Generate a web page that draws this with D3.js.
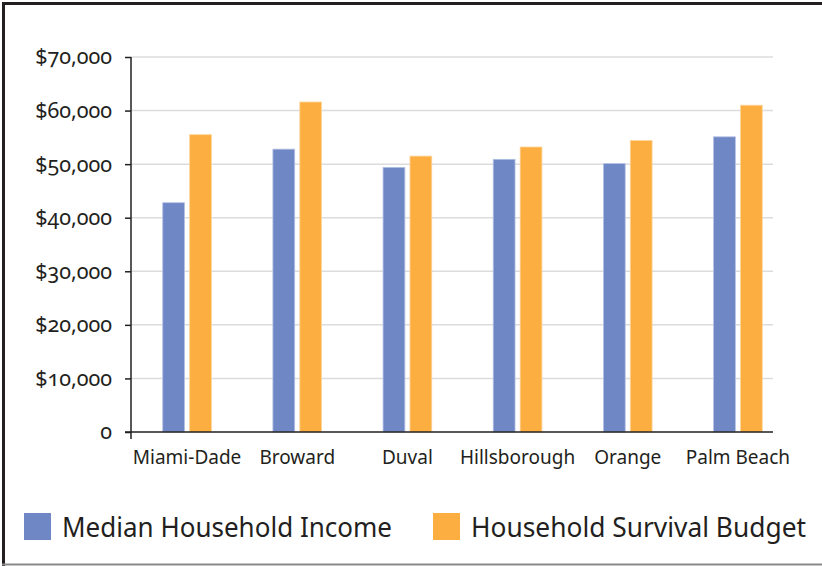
<!DOCTYPE html>
<html>
<head>
<meta charset="utf-8">
<script src="https://cdn.jsdelivr.net/npm/d3@7"></script>
<style>
  html, body { margin: 0; padding: 0; background: #fff; }
  svg text { font-family: "Noto Sans", "Open Sans", sans-serif; fill: #231f20; }
  .ytick { font-variant-numeric: oldstyle-nums; font-feature-settings: "onum" 1; }
</style>
</head>
<body>
<svg id="chart" width="822" height="566"></svg>
<script>
const categories = ["Miami-Dade", "Broward", "Duval", "Hillsborough", "Orange", "Palm Beach"];
const seriesNames = ["Median Household Income", "Household Survival Budget"];
const medianIncome = [42800, 52800, 49400, 50900, 50100, 55100];
const survivalBudget = [55500, 61600, 51500, 53200, 54400, 61000];
const yTicks = [0, 10000, 20000, 30000, 40000, 50000, 60000, 70000];
const colors = ["#6f87c5", "#fcaf40"];
const strokeColors = ["#b4c1e4", "#fdd49b"];

const svg = d3.select("#chart");
const W = 822, H = 566;

// frame
svg.append("line").attr("x1", 3.5).attr("x2", 3.5).attr("y1", 2).attr("y2", 566)
  .attr("stroke", "#231f20").attr("stroke-width", 3);
svg.append("line").attr("x1", 2).attr("x2", W).attr("y1", 3.5).attr("y2", 3.5)
  .attr("stroke", "#231f20").attr("stroke-width", 3);
svg.append("line").attr("x1", 2).attr("x2", W).attr("y1", 564.5).attr("y2", 564.5)
  .attr("stroke", "#8a8a8a").attr("stroke-width", 2);

const plotLeft = 131, plotRight = 773, plotTop = 57, plotBottom = 432;

const y = d3.scaleLinear().domain([0, 70000]).range([plotBottom, plotTop]);
const x0 = d3.scaleBand().domain(categories).range([132, 793])
  .paddingInner(0.558).paddingOuter(0.279);
const x1 = d3.scaleBand().domain(seriesNames).range([0, x0.bandwidth()])
  .paddingInner(0.19).paddingOuter(0);

// gridlines
svg.append("g").selectAll("line").data(yTicks.filter(d => d > 0)).join("line")
  .attr("x1", plotLeft).attr("x2", plotRight)
  .attr("y1", d => y(d)).attr("y2", d => y(d))
  .attr("stroke", "#dcdcdc").attr("stroke-width", 1.5);

// bars
const rows = categories.map((c, i) => ({ cat: c, vals: [medianIncome[i], survivalBudget[i]] }));
const groups = svg.append("g").selectAll("g").data(rows).join("g")
  .attr("transform", d => `translate(${x0(d.cat)},0)`);
groups.selectAll("rect").data(d => d.vals.map((v, j) => ({ v, j })))
  .join("rect")
  .attr("x", d => x1(seriesNames[d.j]))
  .attr("width", x1.bandwidth())
  .attr("y", d => y(d.v))
  .attr("height", d => y(0) - y(d.v))
  .attr("fill", d => colors[d.j])
  .attr("stroke", d => strokeColors[d.j])
  .attr("stroke-width", 0.8);

// y axis
const yAxis = d3.axisLeft(y).tickValues(yTicks).tickSize(6).tickPadding(13)
  .tickFormat(d => d === 0 ? "0" : "$" + d3.format(",")(d));
const gy = svg.append("g").attr("transform", `translate(${plotLeft},0)`).call(yAxis);
gy.select(".domain").remove();
gy.selectAll(".tick line").attr("stroke", "#231f20").attr("stroke-width", 1.5);
gy.selectAll(".tick text").attr("class", "ytick").attr("font-size", 21.5)
  .attr("font-family", null).style("fill", "#231f20");
svg.append("line").attr("x1", plotLeft).attr("x2", plotLeft)
  .attr("y1", plotTop).attr("y2", plotBottom + 7)
  .attr("stroke", "#231f20").attr("stroke-width", 1.5);

// x axis
svg.append("line").attr("x1", plotLeft - 6).attr("x2", plotRight)
  .attr("y1", plotBottom).attr("y2", plotBottom)
  .attr("stroke", "#231f20").attr("stroke-width", 1.5);
svg.append("g").selectAll("text").data(categories).join("text")
  .attr("x", d => x0(d) + x0.bandwidth() / 2)
  .attr("y", 464)
  .attr("text-anchor", "middle")
  .attr("font-size", 19)
  .text(d => d);

// legend
const legendX = [24, 433];
const legendWidths = [330, 335];
const lg = svg.append("g").selectAll("g").data(seriesNames).join("g")
  .attr("transform", (d, i) => `translate(${legendX[i]},513)`);
lg.append("rect").attr("width", 27).attr("height", 27).attr("fill", (d, i) => colors[i]);
lg.append("text").attr("x", 38).attr("y", 24).attr("font-size", 27)
  .attr("textLength", (d, i) => legendWidths[i]).attr("lengthAdjust", "spacingAndGlyphs")
  .text(d => d);
</script>
</body>
</html>
